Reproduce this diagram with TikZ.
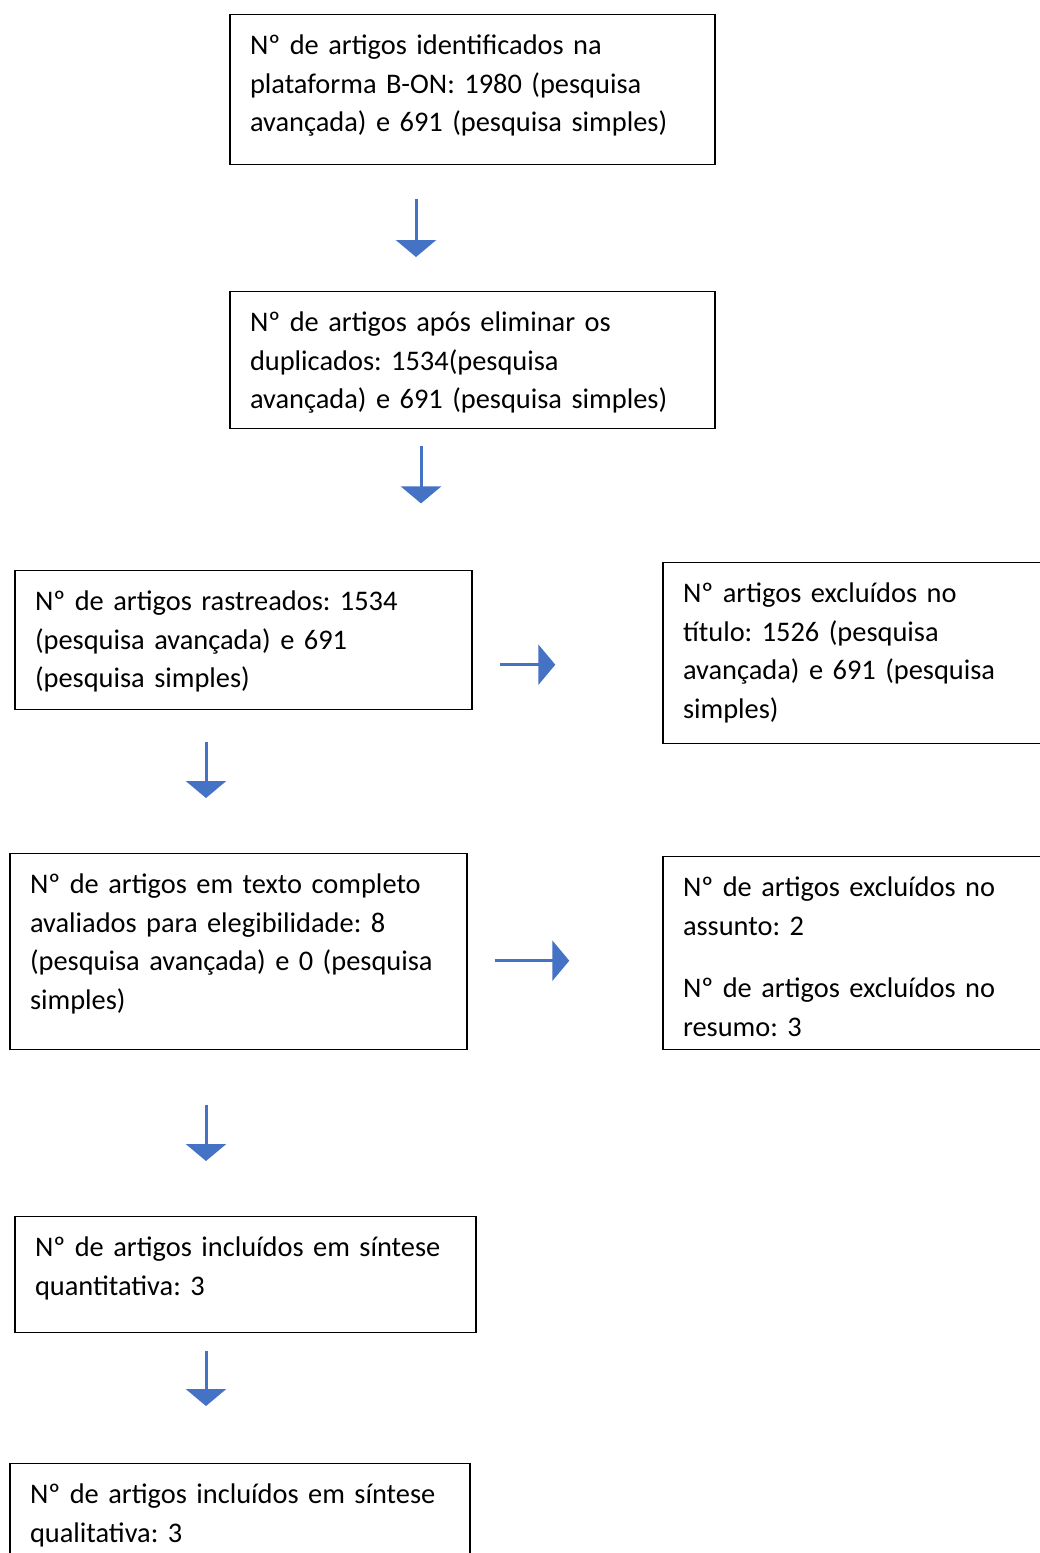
\documentclass[tikz,border=0pt]{standalone}
\usepackage{fontspec}
\setmainfont{Carlito}
\usetikzlibrary{arrows.meta,positioning}
\definecolor{flowBlue}{HTML}{4472C4}

\begin{document}
\frenchspacing
\begin{tikzpicture}[x=1pt,y=-1pt,
          font=\fontsize{28.4}{38.5}\selectfont,
          box/.style={draw,line width=1.4pt,align=left,anchor=north,inner xsep=20pt,inner ysep=0pt,text height=40pt},
          arr/.style={-{Triangle[width=40pt,length=17pt]},flowBlue,line width=3pt}]
        \clip (0,0) rectangle (1040,1553);
        % boxes placed by their top edge
        \node[box,text width=445pt,text depth=110pt] (ident) at (472.5,14) {Nº de artigos identificados na\\ plataforma B-ON: 1980 (pesquisa\\ avançada) e 691 (pesquisa simples)};
        \node[box,text width=445pt,text depth=97pt] (dupl) at (472.5,291) {Nº de artigos após eliminar os\\ duplicados: 1534(pesquisa\\ avançada) e 691 (pesquisa simples)};
        \node[box,text width=417pt,text depth=99pt] (rastr) at (243.5,570) {Nº de artigos rastreados: 1534\\ (pesquisa avançada) e 691\\ (pesquisa simples)};
        \node[box,text width=360pt,text depth=141pt] (excTit) at (863,562) {Nº artigos excluídos no\\ título: 1526 (pesquisa\\ avançada) e 691 (pesquisa\\ simples)};
        \node[box,text width=417pt,text depth=156pt] (eleg) at (238.5,853) {Nº de artigos em texto completo\\ avaliados para elegibilidade: 8\\ (pesquisa avançada) e 0 (pesquisa\\ simples)};
        \node[box,text width=360pt,text depth=153pt] (excRes) at (863,856) {Nº de artigos excluídos no\\ assunto: 2\\[24pt] Nº de artigos excluídos no\\ resumo: 3};
        \node[box,text width=421pt,text depth=76pt] (quant) at (245.5,1216) {Nº de artigos incluídos em síntese\\ quantitativa: 3};
        \node[box,text width=420pt,text depth=76pt] (qual) at (240,1463) {Nº de artigos incluídos em síntese\\ qualitativa: 3};

        \draw[arr] ([xshift=-56.5pt,yshift=-34pt]ident.south) -- ([xshift=-56.5pt,yshift=34pt]dupl.north);
        \draw[arr] ([xshift=-51.5pt,yshift=-17pt]dupl.south) -- ([xshift=-51.5pt,yshift=-74pt]dupl.south);
        \draw[arr] ([xshift=-37.5pt,yshift=-32pt]rastr.south) -- ([xshift=-32.5pt,yshift=55pt]eleg.north);
        \draw[arr] ([xshift=27pt,yshift=-24.5pt]rastr.east) -- ([xshift=-107pt,yshift=-11.5pt]excTit.west);
        \draw[arr] ([xshift=27pt,yshift=-9pt]eleg.east) -- ([xshift=-93pt,yshift=-7.5pt]excRes.west);
        \draw[arr] ([xshift=-32.5pt,yshift=-55pt]eleg.south) -- ([xshift=-39.5pt,yshift=55pt]quant.north);
        \draw[arr] ([xshift=-39.5pt,yshift=-18pt]quant.south) -- ([xshift=-34pt,yshift=57pt]qual.north);
      \end{tikzpicture}
\end{document}
